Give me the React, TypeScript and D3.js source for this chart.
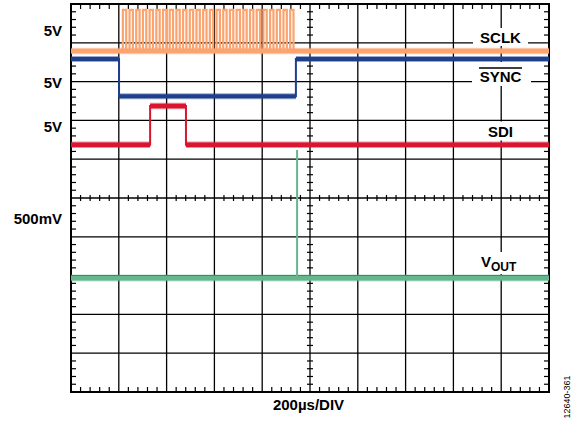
import React from "react";
import * as d3 from "d3";

// Time in µs (200 µs/DIV, 10 divisions); levels in divisions (0 = screen centre)
const sclkRises = [217, 245, 273, 301, 329, 357, 385, 413, 441, 469, 497, 525, 553, 581, 609, 637, 665, 693, 721, 749, 777, 805, 833, 861, 889, 917];
const sclkHighWidth = 14;
const sclkLevels = { low: 3.79, high: 4.85 };

const syncTimes = [0, 201, 941, 2000];
const syncLevels = [3.58, 2.62, 3.58, 3.58];

const sdiTimes = [0, 331, 481, 2000];
const sdiLevels = [1.37, 2.37, 1.37, 1.37];

const voutTimes = [0, 946, 946, 946, 2000];
const voutLevels = [-2.06, -2.06, 1.24, -2.06, -2.06];

const channelScaleLabels = ["5V", "5V", "5V", "500mV"];
const channelScaleDivs = [4.18, 2.84, 1.69, -0.67];

const timeDivLabel = "200µs/DIV";
const figureId = "12640-361";

const COLORS = {
  sclk: "#FBA470",
  sync: "#1D3F8C",
  sdi: "#DA1530",
  vout: "#64B78D",
};

const W = 572, H = 423;
const X0 = 71, X1 = 549, Y0 = 4, Y1 = 392;
const FONT = "'Liberation Sans', Arial, Helvetica, sans-serif";

type Pt = [number, number];

export default function App() {
  const x = d3.scaleLinear().domain([0, 2000]).range([X0, X1]);
  const y = d3.scaleLinear().domain([-5, 5]).range([Y1, Y0]);

  const stepLine = d3
    .line<Pt>()
    .x((d) => x(d[0]))
    .y((d) => y(d[1]))
    .curve(d3.curveStepAfter);
  const plainLine = d3
    .line<Pt>()
    .x((d) => x(d[0]))
    .y((d) => y(d[1]));

  // horizontal segments of a step trace (drawn thicker, like a noisy scope trace)
  const levelSegs = (times: number[], levels: number[]) =>
    times
      .slice(0, -1)
      .map((t, i) => plainLine([[t, levels[i]], [times[i + 1], levels[i]]]) ?? "")
      .join("");

  const syncPath = stepLine(syncTimes.map((t, i) => [t, syncLevels[i]] as Pt)) ?? "";
  const syncSegs = levelSegs(syncTimes, syncLevels);
  const sdiPath = stepLine(sdiTimes.map((t, i) => [t, sdiLevels[i]] as Pt)) ?? "";
  const sdiSegs = levelSegs(sdiTimes, sdiLevels);
  const voutPath = plainLine(voutTimes.map((t, i) => [t, voutLevels[i]] as Pt)) ?? "";
  const voutBase = plainLine([[0, voutLevels[0]], [2000, voutLevels[0]]]) ?? "";
  const sclkBase = plainLine([[0, sclkLevels.low], [2000, sclkLevels.low]]) ?? "";
  const sclkPulses = sclkRises
    .map(
      (t) =>
        plainLine([
          [t, sclkLevels.low],
          [t, sclkLevels.high],
          [t + sclkHighWidth, sclkLevels.high],
          [t + sclkHighWidth, sclkLevels.low],
        ]) ?? ""
    )
    .join("");

  const majorX = d3.range(0, 2001, 200);
  const majorY = d3.range(-5, 5.001, 1);
  const minorX = d3.range(0, 2001, 40).filter((v) => v % 200 !== 0);
  const minorY = d3.range(-50, 51, 2).filter((v) => v % 10 !== 0).map((v) => v / 10);

  const cx = x(1000);
  const cy = y(0);

  const labelBoxes = [
    { x: 473, y: 28, w: 55, h: 18 },
    { x: 472, y: 62, w: 59, h: 24 },
    { x: 482, y: 121.5, w: 37, h: 19 },
    { x: 476, y: 252, w: 48, h: 22 },
  ];

  return (
    <svg
      width={W}
      height={H}
      viewBox={`0 0 ${W} ${H}`}
      style={{ position: "absolute", left: 0, top: 0, background: "#fff" }}
      fontFamily={FONT}
    >
      <rect x={0} y={0} width={W} height={H} fill="#fff" />
      {/* major grid */}
      <g stroke="#000" strokeWidth={1.3}>
        {majorX.slice(1, -1).map((t) => (
          <line key={"vx" + t} x1={x(t)} x2={x(t)} y1={Y0} y2={Y1} />
        ))}
        {majorY.slice(1, -1).map((v) => (
          <line key={"hy" + v} x1={X0} x2={X1} y1={y(v)} y2={y(v)} />
        ))}
      </g>
      {/* minor ticks */}
      <g stroke="#000" strokeWidth={1.2}>
        {minorX.map((t) => (
          <g key={"mx" + t}>
            <line x1={x(t)} x2={x(t)} y1={Y0} y2={Y0 + 5} />
            <line x1={x(t)} x2={x(t)} y1={Y1 - 5} y2={Y1} />
            <line x1={x(t)} x2={x(t)} y1={cy - 3} y2={cy + 3} />
          </g>
        ))}
        {minorY.map((v) => (
          <g key={"my" + v}>
            <line x1={X0} x2={X0 + 5} y1={y(v)} y2={y(v)} />
            <line x1={X1 - 5} x2={X1} y1={y(v)} y2={y(v)} />
            <line x1={cx - 3} x2={cx + 3} y1={y(v)} y2={y(v)} />
          </g>
        ))}
      </g>
      {/* border */}
      <rect x={X0} y={Y0} width={X1 - X0} height={Y1 - Y0} fill="none" stroke="#000" strokeWidth={2} />

      {/* white label backgrounds */}
      {labelBoxes.map((b, i) => (
        <rect key={"lb" + i} x={b.x} y={b.y} width={b.w} height={b.h} fill="#fff" />
      ))}

      {/* traces */}
      <g fill="none" strokeLinejoin="miter" strokeLinecap="butt">
        <path d={sclkPulses} stroke={COLORS.sclk} strokeWidth={2.2} />
        <path d={sclkBase} stroke={COLORS.sclk} strokeWidth={6.5} opacity={0.5} />
        <path d={sclkBase} stroke={COLORS.sclk} strokeWidth={4.5} />

        <path d={syncPath} stroke={COLORS.sync} strokeWidth={2} />
        <path d={syncSegs} stroke={COLORS.sync} strokeWidth={6} opacity={0.45} />
        <path d={syncSegs} stroke={COLORS.sync} strokeWidth={4} />

        <path d={sdiPath} stroke={COLORS.sdi} strokeWidth={2} />
        <path d={sdiSegs} stroke={COLORS.sdi} strokeWidth={6.5} opacity={0.45} />
        <path d={sdiSegs} stroke={COLORS.sdi} strokeWidth={4.5} />

        <path d={voutPath} stroke={COLORS.vout} strokeWidth={2} />
        <path d={voutBase} stroke={COLORS.vout} strokeWidth={7} opacity={0.45} />
        <path d={voutBase} stroke={COLORS.vout} strokeWidth={5} />
      </g>

      {/* channel scale labels */}
      <g fontWeight="bold" fontSize={15} textAnchor="end" fill="#000">
        {channelScaleLabels.map((s, i) => (
          <text key={"cs" + i} x={62} y={y(channelScaleDivs[i])}>
            {s}
          </text>
        ))}
      </g>

      {/* trace names */}
      <g fontWeight="bold" fontSize={15} fill="#000">
        <text x={500.5} y={43} textAnchor="middle">SCLK</text>
        <text x={500.5} y={82} textAnchor="middle">SYNC</text>
        <line x1={479} x2={522} y1={68} y2={68} stroke="#000" strokeWidth={1.5} />
        <text x={500.5} y={137} textAnchor="middle">SDI</text>
        <text x={481} y={267}>
          V<tspan fontSize={12} dy={4}>OUT</tspan>
        </text>
      </g>

      <text x={308.5} y={410} textAnchor="middle" fontWeight="bold" fontSize={15} fill="#000">
        {timeDivLabel}
      </text>
      <text transform="translate(570,397) rotate(-90)" textAnchor="middle" fontSize={9} fill="#000">
        {figureId}
      </text>
    </svg>
  );
}
